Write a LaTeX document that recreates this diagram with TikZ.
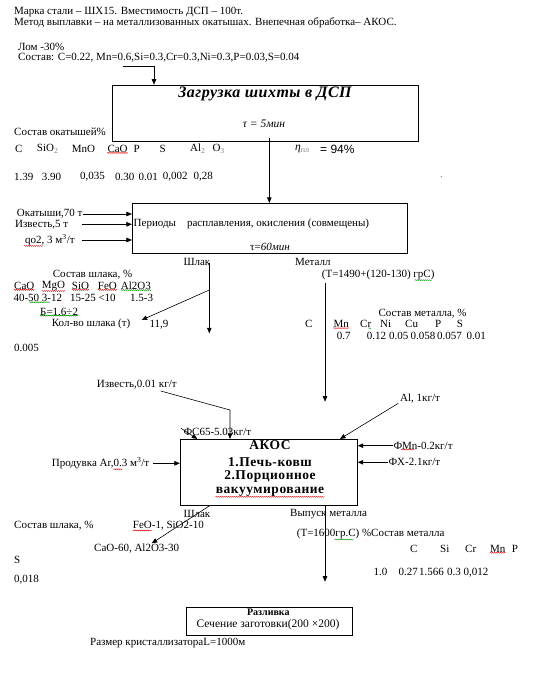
\documentclass[tikz,border=0pt]{standalone}
\usepackage{fontspec}
\setmainfont{Liberation Serif}
\newfontfamily\arialf{Liberation Sans}
\usetikzlibrary{arrows.meta,decorations.pathmorphing}
\newcommand\fsn{\fontsize{11}{13}\selectfont}
\begin{document}
\begin{tikzpicture}[x=1pt,y=-1pt,
  txt/.style={anchor=west,inner sep=0pt,font=\fsn},
  ctxt/.style={txt,anchor=center},
  boxn/.style={draw,line width=0.8pt,inner sep=0pt},
  ln/.style={line width=0.6pt},
  arr/.style={line width=0.6pt,-{Triangle[length=5.5pt,width=4.5pt]}},
  boldt/.style={ctxt,font=\fontsize{13.5}{15}\selectfont\bfseries\addfontfeature{LetterSpace=4}},
  spell/.style={red!85!black,line width=0.4pt,decorate,decoration={snake,amplitude=0.5pt,segment length=2pt}},
  spellg/.style={spell,green!55!black}]
\useasboundingbox (0,0) rectangle (543,675);

% header
\node[txt] (h1) at (14,12) {Марка стали – ШХ15. Вместимость ДСП – 100т.};
\node[txt] (h2) at (14,22.5) {Метод выплавки – на металлизованных окатышах. Внепечная обработка– АКОС.};
\node[txt] (lom) at (18,46.5) {Лом -30\%};
\node[txt] (sost) at (18,57.5) {Состав: C=0.22, Mn=0.6,Si=0.3,Cr=0.3,Ni=0.3,P=0.03,S=0.04};

% box 1
\node[boxn,minimum width=306pt,minimum height=56.7pt] (box1) at (265.3,113.4) {};
\node[ctxt,font=\fontsize{16}{18}\selectfont\bfseries\itshape\addfontfeature{LetterSpace=3}] (b1t) at (265,93.5) {Загрузка шихты в ДСП};
\node[ctxt,font=\fontsize{11.5}{13}\selectfont\itshape] (b1tau) at (264,123.3) {τ = 5мин};
\coordinate (s0) at (123,66);
\coordinate (s1) at (154,66);
\draw[ln] (s0) -- (s1);
\draw[arr] (s1) -- (s1 |- box1.north);

% pellets
\node[txt] (okt) at (14,131.7) {Состав окатышей\%};
\foreach \x/\t [count=\i] in {15/C, 36.7/SiO\textsubscript{\color{gray}2}, 71.7/MnO, 107.3/CaO, 133.3/P, 159.3/S, 190/Al\textsubscript{\color{gray}2}, 212.3/O\textsubscript{\color{gray}3}}
  \node[txt] (ok\i) at (\x,149) {\t};
\draw[spell] (ok4.south west) -- (ok4.south east);
\node[txt,font=\fontsize{11.5}{13}\selectfont\itshape] (eta) at (295,149) {η\textsubscript{\color{gray}\upshape пл}};
\node[txt,font=\fontsize{12}{14}\arialf] (eta2) at (320,149) {= 94\%};
\foreach \x/\t [count=\i] in {14/1.39, 41.7/3.90, 80/{0,035}, 115/0.30, 138.3/0.01, 162.7/{0,002}, 193.3/{0,28}}
  \node[txt] (ov\i) at (\x,176.7) {\t};
\node[txt,text=gray] (dot) at (440,177) {.};

% box 2
\node[boxn,minimum width=275pt,minimum height=50pt] (box2) at (269.8,228.3) {};
\coordinate (c12) at (269.3,138);
\draw[arr] (c12) -- (c12 |- box2.north);
\node[txt] (b2t) at (133.5,224.3) {Периоды\quad расплавления, окисления (совмещены)};
\node[ctxt] (b2tau) at (270,247.3) {τ=\textit{60мин}};
\node[txt] (in1) at (16.7,214) {Окатыши,70 т};
\node[txt] (in2) at (15,224.3) {Известь,5 т};
\node[txt] (in3) at (25,240) {qo2, 3 м\textsuperscript{3}/т};
\draw[spell] ([xshift=-1pt]in3.south west) -- ([xshift=18pt]in3.south west);
\draw[arr] (in1.east) -- (in1.east -| box2.west);
\coordinate (a2) at (81.7,224.3);
\coordinate (a3) at (81.7,240);
\draw[arr] (a2) -- (a2 -| box2.west);
\draw[arr] (a3) -- (a3 -| box2.west);

\node[txt] (shl1) at (183.3,261.7) {Шлак};
\node[txt] (met1) at (295,261.7) {Металл};
\node[txt] (t1490) at (321.7,275) {(T=1490+(120-130) грС)};
\draw[spellg] ([xshift=-20pt]t1490.south east) -- ([xshift=-3pt]t1490.south east);

% slag
\coordinate (sl0) at (209.3,263);
\coordinate (sl1) at (209.3,290);
\coordinate (sl2) at (209.3,333.3);
\coordinate (sl3) at (141.7,320);
\draw[arr] (sl0) -- (sl2);
\draw[arr] (sl1) -- (sl3);
\node[txt] (sst) at (52.7,274.5) {Состав шлака, \%};
\foreach \x/\t [count=\i] in {14/CaO, 41.7/MgO, 71.7/SiO, 97.7/FeO, 120.7/Al2O3}
  \node[txt] (sr\i) at (\x,286) {\t};
\foreach \i in {1,2,3,4} \draw[spell] (sr\i.south west) -- (sr\i.south east);
\draw[spellg] (sr5.south west) -- (sr5.south east);
\foreach \x/\t [count=\i] in {13.3/40-50, 41.7/3-12, 70/15-25, 98.3/<10, 130/1.5-3}
  \node[txt] (sv\i) at (\x,298.3) {\t};
\draw[spellg] ([xshift=-10pt]sv1.south east) -- ([xshift=8pt]sv2.south west);
\node[txt] (bas) at (40,311.7) {Б=1.6÷2};
\draw[spellg] (bas.south west) -- (bas.south east);
\node[txt] (kol) at (51.7,324.3) {Кол-во шлака (т)};
\node[txt] (kolv) at (149.3,324.3) {11,9};
\node[txt] (s005) at (14,348.3) {0.005};

% metal
\coordinate (m0) at (325,283.3);
\coordinate (m1) at (325,401.7);
\draw[arr] (m0) -- (m1);
\node[txt] (mst) at (378.3,313.3) {Состав металла, \%};
\foreach \x/\t [count=\i] in {305/C, 333.3/Mn, 360/Cr, 380/Ni, 405/Cu, 435/P, 456.7/S}
  \node[txt] (mr\i) at (\x,324.3) {\t};
\draw[spell] (mr2.south west) -- (mr2.south east);
\draw[spellg] ([xshift=-3pt]mr3.south east) -- (mr3.south east);
\foreach \x/\t [count=\i] in {336.7/0.7, 366.7/0.12, 389/0.05, 410.5/0.058, 437/0.057, 466.5/0.01}
  \node[txt] (mv\i) at (\x,336) {\t};

% AKOS
\node[boxn,minimum width=177pt,minimum height=65.7pt] (akos) at (268.8,472.2) {};
\node[boldt] (ak1) at (270,445.5) {АКОС};
\node[boldt] (ak2) at (270,461.7) {1.Печь-ковш};
\node[boldt] (ak3) at (270,476.7) {2.Порционное};
\node[boldt] (ak4) at (270,492) {вакуумирование};
\draw[spell] (ak4.south west) -- (ak4.south east);

\node[txt] (izv2) at (96.7,384.3) {Известь,0.01 кг/т};
\coordinate (i0) at (160.7,391);
\coordinate (i1) at (230,410);
\draw[arr] (i0) -- (i1) -- (i1 |- akos.north);
\node[txt] (fs) at (183.3,431.7) {ФС65-5.03кг/т};
\coordinate (f0) at (181,428.3);
\coordinate (f1) at (197.3,0);
\draw[arr] (f0) -- (f1 |- akos.north);
\node[txt] (al) at (400,398.3) {Al, 1кг/т};
\coordinate (al0) at (398.3,403.3);
\coordinate (al1) at (340,0);
\draw[arr] (al0) -- (al1 |- akos.north);
\node[txt] (prod) at (51.7,463.3) {Продувка Ar,0.3 м\textsuperscript{3}/т};
\draw[spell] ([xshift=-36pt]prod.south east) -- ([xshift=-27pt]prod.south east);
\coordinate (p0) at (153.3,463.3);
\draw[arr] (p0) -- (p0 -| akos.west);
\node[txt] (fmn) at (393.3,445.7) {ФMn-0.2кг/т};
\draw[spell] ([xshift=8pt]fmn.south west) -- ([xshift=21pt]fmn.south west);
\node[txt] (fx) at (388.3,462.3) {ФХ-2.1кг/т};
\draw[arr] (fmn.west) -- (fmn.west -| akos.east);
\draw[arr] (fx.west) -- (fx.west -| akos.east);

% below AKOS
\node[txt] (shl2) at (183.3,514) {Шлак};
\node[txt] (vyp) at (290,514) {Выпуск металла};
\node[txt] (sst2) at (14,525.7) {Состав шлака, \%};
\node[txt] (feo) at (132.7,525.7) {FeO-1, SiO2-10};
\draw[spell] (feo.south west) -- ([xshift=19pt]feo.south west);
\coordinate (d0) at (210,0);
\coordinate (d1) at (151.7,543.3);
\draw[arr] (d0 |- akos.south) -- (d1);
\node[txt] (cao) at (94,549) {CaO-60, Al2O3-30};
\node[txt] (ss) at (14,560) {S};
\node[txt] (s018) at (14,580) {0,018};
\coordinate (m2) at (325,0);
\coordinate (m3) at (325,581.7);
\draw[arr] (m2 |- akos.south) -- (m3);
\node[txt] (t1600) at (296.7,534.3) {(T=1600гр.C) \%Состав металла};
\draw[spellg] ([xshift=38pt]t1600.south west) -- ([xshift=57pt]t1600.south west);
\foreach \x/\t [count=\i] in {410/C, 440/Si, 465/Cr, 490/Mn, 511.7/P}
  \node[txt] (mr2\i) at (\x,549) {\t};
\draw[spell] (mr24.south west) -- (mr24.south east);
\foreach \x/\t [count=\i] in {373.3/1.0, 398.3/0.27, 419/1.566, 447/0.3, 463.5/{0,012}}
  \node[txt] (mv2\i) at (\x,572.3) {\t};

% casting
\node[boxn,minimum width=166pt,minimum height=28pt] (razl) at (269,621.3) {};
\node[ctxt,font=\fontsize{10}{12}\selectfont\bfseries] (r1) at (268.3,612.5) {Разливка};
\node[ctxt,font=\fontsize{11.5}{13}\selectfont] (r2) at (268,624.5) {Сечение заготовки(200 ×200)};
\node[txt] (razm) at (90,643) {Размер кристаллизатораL=1000м};
\end{tikzpicture}
\end{document}
